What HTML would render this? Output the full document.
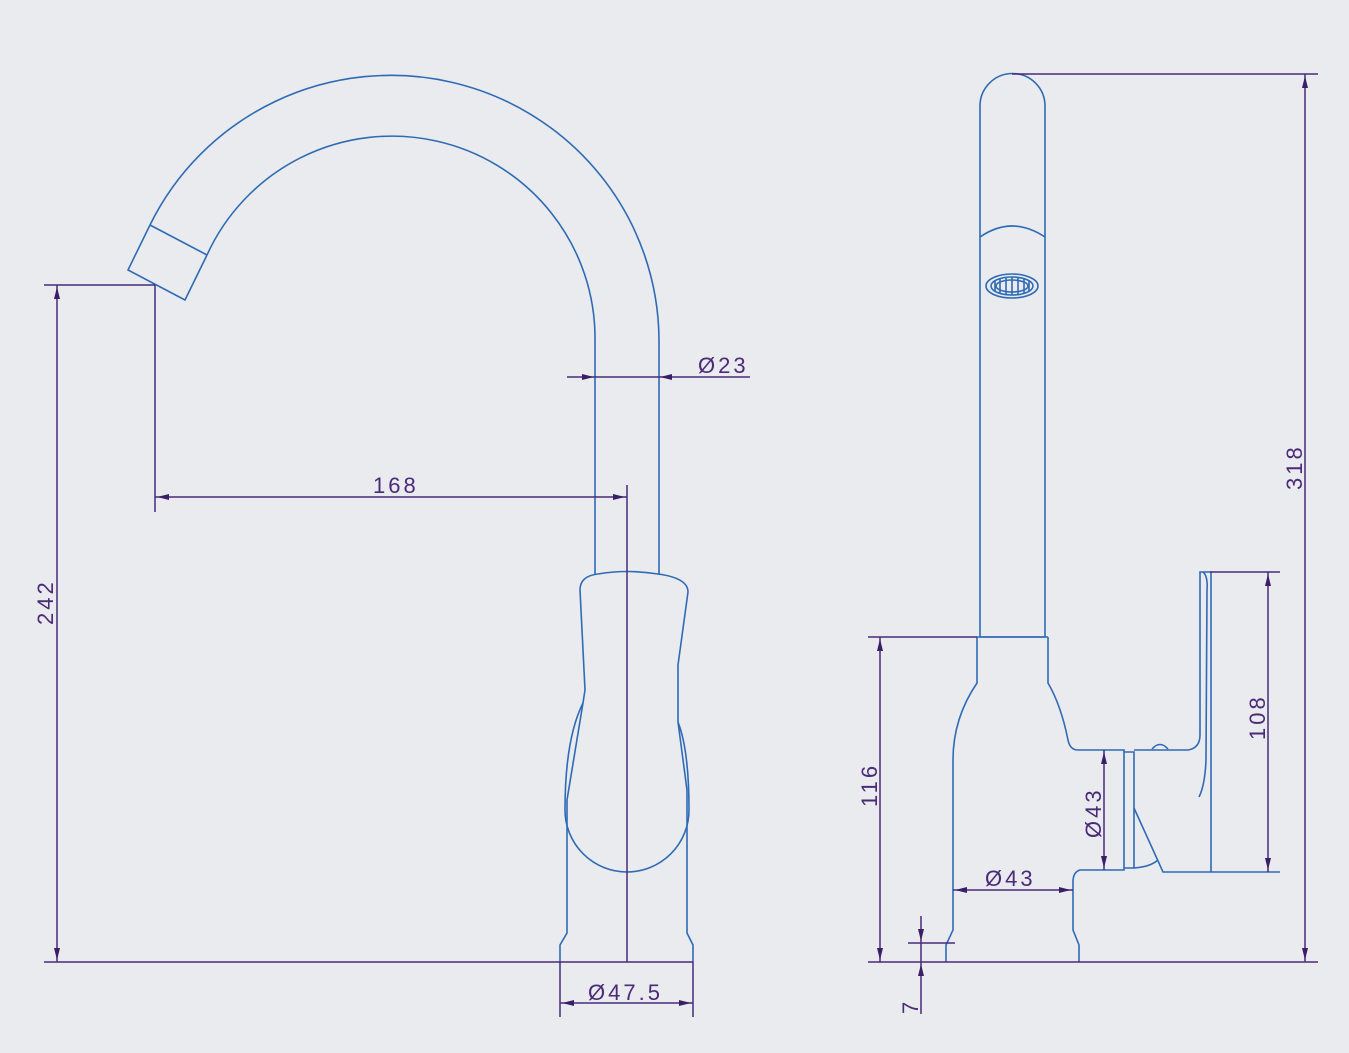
<!DOCTYPE html>
<html><head><meta charset="utf-8"><style>
html,body{margin:0;padding:0;background:#e9ebee;}
svg{display:block}
.b{fill:none;stroke:#2f6bb5;stroke-width:1.6}
.p{fill:none;stroke:#4b2a78;stroke-width:1.5}
.t{fill:#4b2a78;font-family:"Liberation Sans",sans-serif;font-size:22px;letter-spacing:3px;font-weight:300}
.a{fill:#3b1f66}
</style></head><body>
<svg width="1349" height="1053" viewBox="0 0 1349 1053" xmlns="http://www.w3.org/2000/svg">
<rect width="1349" height="1053" fill="#e9ebee"/>
<!-- LEFT VIEW -->
<path class="b" d="M150,225 A268,266 0 0 1 659,340 L659,575"/>
<path class="b" d="M207,255 A203,202 0 0 1 595,340 L595,575"/>
<path class="b" d="M150,225 L128,270 L185,300 L207,255 M150,225 L207,255"/>
<path class="b" d="M580,590 Q580,576 598,574 Q627,569 658,574 Q688,578 688,592 L678,665 L678,722"/>
<path class="b" d="M580,590 L585,690 L583,703"/>
<path class="b" d="M583,703 C572,725 565,760 565,810 A62,62 0 0 0 689,810 C689,770 685,740 678,722"/>
<path class="b" d="M583,703 L567,800 M678,722 L687,790"/>
<path class="b" d="M567,800 L567,933 L560,945 L560,962 M687,790 L687,933 L693,945 L693,962"/>
<path class="p" d="M627,485 L627,962 M44,962 L693,962"/>
<path class="p" d="M44,285 L155,285 M57,285 L57,962 M155,285 L155,512"/>
<path class="a" d="M57,287 l-3,12 h6z M57,960 l-3,-12 h6z"/>
<text class="t" transform="translate(53,625) rotate(-90)">242</text>
<path class="p" d="M155,497 L627,497"/>
<path class="a" d="M157,497 l12,-3 v6z M625,497 l-12,-3 v6z"/>
<text class="t" x="373" y="493">168</text>
<path class="p" d="M567,377 L750,377"/>
<path class="a" d="M594,377 l-12,-3 v6z M660,377 l12,-3 v6z"/>
<text class="t" x="698" y="373">Ø23</text>
<path class="p" d="M560,962 L560,1017 M693,962 L693,1017 M560,1003 L693,1003"/>
<path class="a" d="M562,1003 l12,-3 v6z M691,1003 l-12,-3 v6z"/>
<text class="t" x="588" y="1000">Ø47.5</text>

<!-- RIGHT VIEW -->
<path class="b" d="M980,637 L980,106 A32.5,32.5 0 0 1 1045,106 L1045,637 Z"/>
<path class="b" d="M980,237 Q1012,215 1045,237"/>
<ellipse class="b" cx="1012" cy="286" rx="26" ry="12"/>
<ellipse class="b" cx="1012" cy="286" rx="21" ry="9"/>
<ellipse class="b" cx="1012" cy="286" rx="16" ry="6"/>
<path class="b" d="M995,280 v12 M1000,278 v16 M1006,277 v18 M1012,277 v18 M1018,277 v18 M1024,278 v16 M1029,280 v12"/>
<path class="b" d="M977,637 L1048,637 M977,637 L977,683 C962,705 953,730 953,760 L953,930 L946,945 L946,962"/>
<path class="b" d="M1048,637 L1048,683 C1058,700 1064,720 1068,740 Q1070,750 1078,750 L1124,750 L1124,870 L1080,870 Q1073,872 1073,882 L1073,930 L1079,945 L1079,962"/>
<path class="b" d="M1124,752 L1134,752 L1134,868 L1124,868"/>
<path class="b" d="M1134,750 L1188,750 Q1200,748 1200,735 L1200,572 L1211,572 L1211,872"/>
<path class="b" d="M1203,572 Q1208,576 1207,590 L1206,760 Q1205,785 1199,797"/>
<path class="b" d="M1134,808 L1163,872 L1280,872 M1134,868 Q1150,867 1158,860"/>
<path class="b" d="M1152,749 Q1160,740 1168,749"/>
<path class="p" d="M1012,74 L1318,74 M1305,74 L1305,962 M868,962 L1318,962"/>
<path class="a" d="M1305,76 l-3,12 h6z M1305,960 l-3,-12 h6z"/>
<text class="t" transform="translate(1302,490) rotate(-90)">318</text>
<path class="p" d="M1210,572 L1280,572 M1268,572 L1268,872"/>
<path class="a" d="M1268,574 l-3,12 h6z M1268,870 l-3,-12 h6z"/>
<text class="t" transform="translate(1265,740) rotate(-90)">108</text>
<path class="p" d="M868,637 L977,637 M880,637 L880,962"/>
<path class="a" d="M880,639 l-3,12 h6z M880,960 l-3,-12 h6z"/>
<text class="t" transform="translate(877,807) rotate(-90)">116</text>
<path class="p" d="M1104,750 L1104,870"/>
<path class="a" d="M1104,752 l-3,12 h6z M1104,868 l-3,-12 h6z"/>
<text class="t" transform="translate(1101,838) rotate(-90)">Ø43</text>
<path class="p" d="M953,890 L1073,890"/>
<path class="a" d="M955,890 l12,-3 v6z M1071,890 l-12,-3 v6z"/>
<text class="t" x="985" y="886">Ø43</text>
<path class="p" d="M908,943 L955,943 M921,916 L921,1014"/>
<path class="a" d="M921,941 l-3,-12 h6z M921,964 l-3,12 h6z"/>
<text class="t" transform="translate(918,1014) rotate(-90)">7</text>
</svg>
</body></html>
